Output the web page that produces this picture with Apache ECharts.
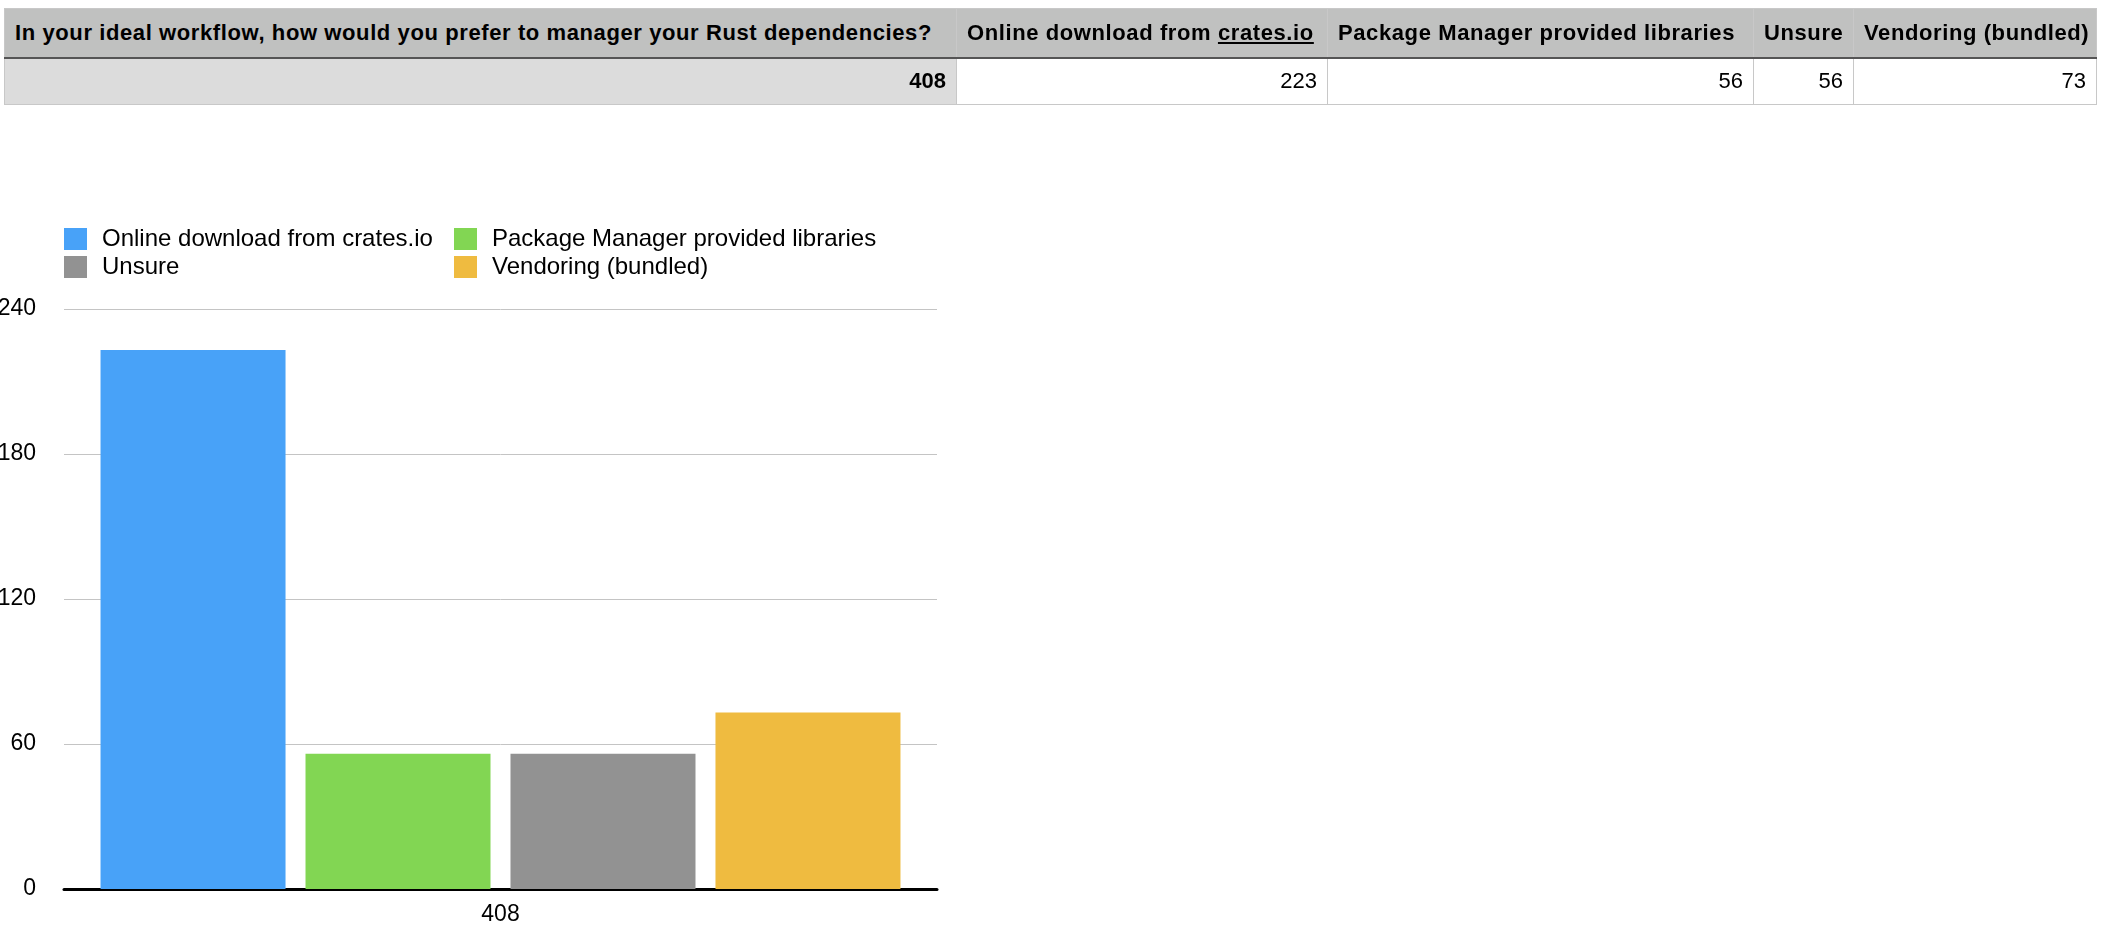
<!DOCTYPE html>
<html>
<head>
<meta charset="utf-8">
<script src="https://cdn.jsdelivr.net/npm/echarts@6/dist/echarts.min.js"></script>
<style>
	html, body { margin: 0; padding: 0; background: #fff; }
	#main { position: absolute; left: 0; top: 0; width: 2108px; height: 944px; }
	#tbl {
		position: absolute; left: 4px; top: 8px;
		border-collapse: collapse;
		font-family: 'Liberation Sans', Arial, Helvetica, sans-serif;
		color: #000;
		table-layout: fixed;
	}
	#tbl td, #tbl th {
		border: 1px solid #c8c8c8;
		padding: 0 10px;
		white-space: nowrap;
		overflow: hidden;
		box-sizing: border-box;
	}
	#tbl th {
		background: #c0c1c0; height: 49px; font-weight: bold; text-align: left;
		font-size: 22px; letter-spacing: 0.6px;
		border-bottom: 2px solid #555;
	}
	#tbl td { height: 47px; text-align: right; background: #fff; font-size: 22px; }
	#tbl td.first { background: #dcdcdc; font-weight: bold; font-size: 22px; }
	#tbl u { text-decoration: underline; }
</style>
</head>
<body>
<div id="main"></div>
<table id="tbl"></table>
<script>
// 表格 + 柱状图数据
var question = 'In your ideal workflow, how would you prefer to manager your Rust dependencies?';
var category = ['408'];
var answers = ['Online download from crates.io', 'Package Manager provided libraries', 'Unsure', 'Vendoring (bundled)'];
var counts = [223, 56, 56, 73];
var colors = ['#48a2f8', '#82d653', '#929292', '#efbb40'];
var yTicks = [0, 60, 120, 180, 240];

// 顶部表格
var colWidths = [952, 371, 426, 100, 243];
var tbl = document.getElementById('tbl');
tbl.style.width = colWidths.reduce(function(a, b) { return a + b; }, 0) + 'px';
var head = '<tr><th style="width:' + colWidths[0] + 'px">' + question + '</th>';
answers.forEach(function(a, i) {
	var txt = a.replace('crates.io', '<u>crates.io</u>');
	head += '<th style="width:' + colWidths[i + 1] + 'px">' + txt + '</th>';
});
head += '</tr>';
var row = '<tr><td class="first">' + category[0] + '</td>';
counts.forEach(function(c) {
	row += '<td>' + c + '</td>';
});
row += '</tr>';
tbl.innerHTML = head + row;

// 图表
var chart = echarts.init(document.getElementById('main'));
var font = "'Liberation Sans', Arial, Helvetica, sans-serif";

var series = answers.map(function(name, i) {
	return {
		name: name,
		type: 'bar',
		data: [counts[i]],
		barWidth: 185,
		barGap: '10.8%',
		itemStyle: { color: colors[i] }
	};
});

var legendStyle = {
	orient: 'vertical',
	top: 227,
	padding: 0,
	itemWidth: 23,
	itemHeight: 22,
	itemGap: 4,
	icon: 'rect',
	textStyle: { fontFamily: font, fontSize: 24, color: '#000', padding: [0, 0, 0, 10] }
};

chart.setOption({
	animation: false,
	legend: [
		Object.assign({ left: 64, data: [answers[0], answers[2]] }, legendStyle),
		Object.assign({ left: 454, data: [answers[1], answers[3]] }, legendStyle)
	],
	grid: {
		left: 64,
		top: 309,
		width: 873,
		height: 580,
		containLabel: false,
		outerBoundsMode: 'none'
	},
	xAxis: {
		type: 'category',
		data: category,
		axisLine: { lineStyle: { color: '#000', width: 3 } },
		axisTick: { show: false },
		axisLabel: { fontFamily: font, fontSize: 23, color: '#000', margin: 14 }
	},
	yAxis: {
		type: 'value',
		min: yTicks[0],
		max: yTicks[yTicks.length - 1],
		interval: 60,
		axisLine: { show: false },
		axisTick: { show: false },
		axisLabel: { fontFamily: font, fontSize: 23, color: '#000', margin: 28 },
		splitLine: { lineStyle: { color: '#c4c4c4', width: 1 } }
	},
	series: series
});
</script>
</body>
</html>
